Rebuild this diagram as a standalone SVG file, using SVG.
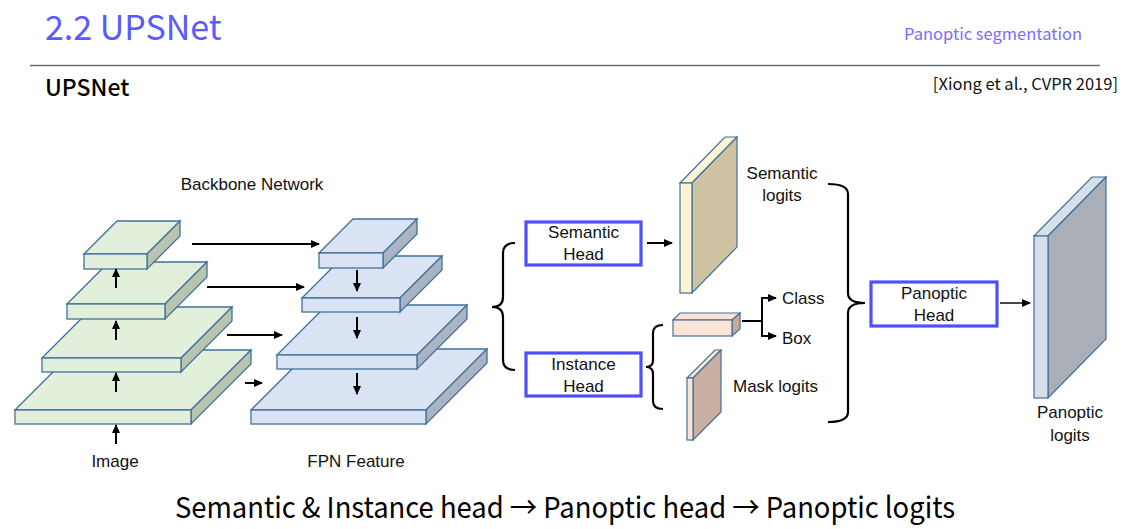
<svg xmlns="http://www.w3.org/2000/svg" width="1125" height="529" viewBox="0 0 1125 529">
<style>
.kr{font-family:"Noto Sans CJK KR","Noto Sans",sans-serif}
.lbl{font-family:"Liberation Sans","Noto Sans",sans-serif;font-size:17px;fill:#111}
.g-front{fill:#e2efda;stroke:#41719c;stroke-width:1.3}
.g-side{fill:#b9c4ae;stroke:#41719c;stroke-width:1.3}
.b-front{fill:#dae3f3;stroke:#41719c;stroke-width:1.3}
.b-side{fill:#aab3c4;stroke:#41719c;stroke-width:1.3}
.head{fill:#fff;stroke:#4f4fff;stroke-width:3.2}
.ln{fill:none;stroke:#000;stroke-width:2}
.br{fill:none;stroke:#000;stroke-width:2.2}
</style>
<defs>
<marker id="ah" markerUnits="userSpaceOnUse" markerWidth="9" markerHeight="8" refX="8" refY="4" orient="auto">
<path d="M0,0 L9,4 L0,8 Z" fill="#000"/>
</marker>
</defs>
<rect width="1125" height="529" fill="#fff"/>

<g id="header">
<text class="kr" x="45" y="40" font-size="34" fill="#5a5aff">2.2 UPSNet</text>
<text class="kr" x="1082" y="40" font-size="16.5" fill="#7a6cff" text-anchor="end">Panoptic segmentation</text>
<line x1="30" y1="65.5" x2="1100" y2="65.5" stroke="#6b6f75" stroke-width="1.5"/>
<text class="kr" x="45" y="96" font-size="23" font-weight="500" fill="#000">UPSNet</text>
<text class="kr" x="1118" y="90" font-size="16.5" fill="#111" text-anchor="end">[Xiong et al., CVPR 2019]</text>
</g>

<g id="backbone">
<text class="lbl" x="252" y="190" text-anchor="middle">Backbone Network</text>
<!-- G4 -->
<polygon class="g-front" points="15,410 75,350 251,350 191,410"/>
<polygon class="g-side" points="191,410 251,350 251,364 191,424"/>
<rect class="g-front" x="15" y="410" width="176" height="14"/>
<!-- G3 -->
<polygon class="g-front" points="42,358 93,307 232,307 181,358"/>
<polygon class="g-side" points="181,358 232,307 232,321 181,372"/>
<rect class="g-front" x="42" y="358" width="139" height="14"/>
<!-- G2 -->
<polygon class="g-front" points="67,304 109,262 207,262 165,304"/>
<polygon class="g-side" points="165,304 207,262 207,277 165,319"/>
<rect class="g-front" x="67" y="304" width="98" height="15"/>
<!-- G1 -->
<polygon class="g-front" points="84,254 117,221 180,221 147,254"/>
<polygon class="g-side" points="147,254 180,221 180,236 147,269"/>
<rect class="g-front" x="84" y="254" width="63" height="15"/>
<text class="lbl" x="115" y="467" text-anchor="middle">Image</text>
</g>

<g id="fpn">
<!-- B4 -->
<polygon class="b-front" points="251,410 312,349 487,349 426,410"/>
<polygon class="b-side" points="426,410 487,349 487,363 426,424"/>
<rect class="b-front" x="251" y="410" width="175" height="14"/>
<!-- B3 -->
<polygon class="b-front" points="277,355 327,305 467,305 417,355"/>
<polygon class="b-side" points="417,355 467,305 467,319 417,369"/>
<rect class="b-front" x="277" y="355" width="140" height="14"/>
<!-- B2 -->
<polygon class="b-front" points="302,298 344,256 442,256 400,298"/>
<polygon class="b-side" points="400,298 442,256 442,270 400,312"/>
<rect class="b-front" x="302" y="298" width="98" height="14"/>
<!-- B1 -->
<polygon class="b-front" points="319,253 353,219 417,219 383,253"/>
<polygon class="b-side" points="383,253 417,219 417,234 383,268"/>
<rect class="b-front" x="319" y="253" width="64" height="15"/>
<text class="lbl" x="356" y="467" text-anchor="middle">FPN Feature</text>
</g>

<g id="semantic-head">
<rect class="head" x="526" y="222" width="115" height="43"/>
<text class="lbl" x="583.5" y="238" text-anchor="middle">Semantic</text>
<text class="lbl" x="583.5" y="260" text-anchor="middle">Head</text>
</g>
<g id="instance-head">
<rect class="head" x="526" y="353" width="115" height="43"/>
<text class="lbl" x="583.5" y="370" text-anchor="middle">Instance</text>
<text class="lbl" x="583.5" y="392" text-anchor="middle">Head</text>
</g>

<g id="semantic-logits">
<polygon points="680,183 725,137 737,137 692,183" fill="#fdf4d4" stroke="#41719c" stroke-width="1.2"/>
<polygon points="692,183 737,137 737,247 692,293" fill="#cdc3a0" stroke="#41719c" stroke-width="1.2"/>
<rect x="680" y="183" width="12" height="110" fill="#fdf4d4" stroke="#41719c" stroke-width="1.2"/>
<text class="lbl" x="782" y="179" text-anchor="middle">Semantic</text>
<text class="lbl" x="782" y="201" text-anchor="middle">logits</text>
</g>

<g id="box-feature">
<polygon points="673,320 680,313 740,313 732,320" fill="#fbe4d6" stroke="#41719c" stroke-width="1.2"/>
<polygon points="732,320 740,313 740,329 732,336" fill="#c3ab9c" stroke="#41719c" stroke-width="1.2"/>
<rect x="673" y="320" width="59" height="16" fill="#fbe4d6" stroke="#41719c" stroke-width="1.2"/>
<text class="lbl" x="782" y="304">Class</text>
<text class="lbl" x="782" y="344">Box</text>
</g>

<g id="mask-logits">
<polygon points="687,378 715,350 721,350 693,378" fill="#fbe4d6" stroke="#41719c" stroke-width="1.2"/>
<polygon points="693,378 721,350 721,412 693,440" fill="#c9b0a3" stroke="#41719c" stroke-width="1.2"/>
<rect x="687" y="378" width="6" height="62" fill="#fbe4d6" stroke="#41719c" stroke-width="1.2"/>
<text class="lbl" x="733" y="392">Mask logits</text>
</g>

<g id="panoptic-head">
<rect class="head" x="871" y="282" width="126" height="44"/>
<text class="lbl" x="934" y="299" text-anchor="middle">Panoptic</text>
<text class="lbl" x="934" y="321" text-anchor="middle">Head</text>
</g>

<g id="panoptic-logits">
<polygon points="1034,236 1092,177 1106,177 1048,236" fill="#d6dfea" stroke="#41719c" stroke-width="1.2"/>
<polygon points="1048,236 1106,177 1106,339 1048,398" fill="#aaafb7" stroke="#41719c" stroke-width="1.2"/>
<rect x="1034" y="236" width="14" height="162" fill="#d6dfea" stroke="#41719c" stroke-width="1.2"/>
<text class="lbl" x="1070" y="418" text-anchor="middle">Panoptic</text>
<text class="lbl" x="1070" y="441" text-anchor="middle">logits</text>
</g>

<g id="connectors">
<!-- backbone up arrows -->
<line class="ln" x1="116" y1="444" x2="116" y2="425" marker-end="url(#ah)"/>
<line class="ln" x1="116" y1="392" x2="116" y2="373" marker-end="url(#ah)"/>
<line class="ln" x1="116" y1="340" x2="116" y2="321" marker-end="url(#ah)"/>
<line class="ln" x1="116" y1="288" x2="116" y2="269" marker-end="url(#ah)"/>
<!-- lateral arrows -->
<line class="ln" x1="192" y1="244" x2="319" y2="244" marker-end="url(#ah)"/>
<line class="ln" x1="207" y1="287" x2="304" y2="287" marker-end="url(#ah)"/>
<line class="ln" x1="227" y1="335" x2="282" y2="335" marker-end="url(#ah)"/>
<line class="ln" x1="245" y1="383" x2="262" y2="383" marker-end="url(#ah)"/>
<!-- fpn down arrows -->
<line class="ln" x1="357" y1="270" x2="357" y2="291" marker-end="url(#ah)"/>
<line class="ln" x1="357" y1="317" x2="357" y2="338" marker-end="url(#ah)"/>
<line class="ln" x1="357" y1="373" x2="357" y2="394" marker-end="url(#ah)"/>
<!-- braces -->
<path class="br" d="M515,243 Q503,243 503,253 L503,297 Q503,307 492,307 Q503,307 503,317 L503,360 Q503,370 515,370"/>
<path class="br" d="M663,325 Q653,325 653,333 L653,360 Q653,367 646,367 Q653,367 653,374 L653,401 Q653,409 663,409"/>
<path class="br" d="M828,184 Q848,184 848,194 L848,293 Q848,303 865,303 Q848,303 848,313 L848,412 Q848,422 828,422"/>
<!-- semantic head -> logits -->
<line class="ln" x1="647" y1="243" x2="672" y2="243" marker-end="url(#ah)"/>
<!-- class / box fork -->
<line class="ln" x1="742" y1="321" x2="762" y2="321"/>
<path class="ln" d="M775,298 L762,298 L762,336 L775,336"/>
<line class="ln" x1="762" y1="298" x2="776" y2="298" marker-end="url(#ah)"/>
<line class="ln" x1="762" y1="336" x2="776" y2="336" marker-end="url(#ah)"/>
<!-- panoptic head -> logits -->
<line x1="1000" y1="303" x2="1030" y2="303" stroke="#333" stroke-width="1.8" marker-end="url(#ah)"/>
</g>

<g id="caption">
<text class="kr" x="175" y="518" font-size="29" fill="#000" textLength="780" lengthAdjust="spacingAndGlyphs">Semantic &amp; Instance head → Panoptic head → Panoptic logits</text>
</g>
</svg>
